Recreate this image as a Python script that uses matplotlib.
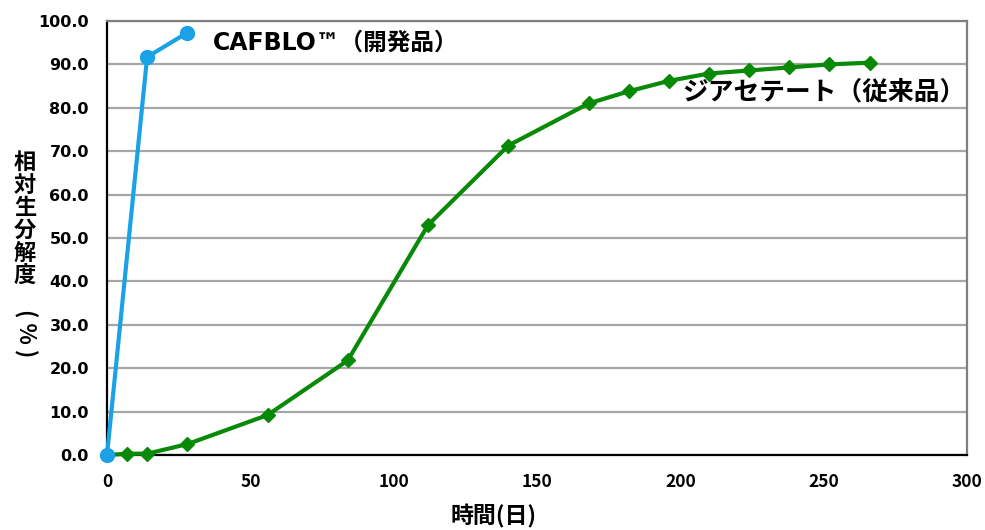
import matplotlib
matplotlib.use("Agg")
import matplotlib.pyplot as plt

plt.rcParams['font.family'] = ['Noto Sans CJK JP', 'DejaVu Sans']
LATIN = ['DejaVu Sans', 'Noto Sans CJK JP']

cafblo_days = [0, 14, 28]
cafblo_vals = [0.0, 91.7, 97.3]

diacetate_days = [0, 7, 14, 28, 56, 84, 112, 140, 168, 182, 196, 210, 224, 238, 252, 266]
diacetate_vals = [0.0, 0.3, 0.3, 2.5, 9.2, 21.8, 53.0, 71.3, 81.0, 83.8, 86.2, 87.9, 88.6, 89.3, 90.0, 90.4]

x_ticks = [0, 50, 100, 150, 200, 250, 300]
y_ticks = [0, 10, 20, 30, 40, 50, 60, 70, 80, 90, 100]

fig = plt.figure(figsize=(9.85, 5.30), dpi=100)
ax = fig.add_axes([107/985, 75/530, (967-107)/985, (455-21)/530])

ax.set_xlim(0, 300)
ax.set_ylim(0, 100)
ax.set_xticks(x_ticks)
ax.set_yticks(y_ticks)
ax.set_yticklabels([f"{v:.1f}" for v in y_ticks], family=LATIN,
                   fontsize=11.5, fontweight='bold')
ax.set_xticklabels([str(v) for v in x_ticks], fontsize=12.5, fontweight='bold')
ax.tick_params(length=0)
ax.tick_params(axis='y', pad=13)
ax.tick_params(axis='x', pad=13)

ax.grid(axis='y', color='#a6a6a6', linewidth=1.6)
ax.set_axisbelow(True)
ax.spines['left'].set_color('black')
ax.spines['bottom'].set_color('black')
ax.spines['left'].set_linewidth(1.6)
ax.spines['bottom'].set_linewidth(1.6)
ax.spines['top'].set_color('#7f7f7f')
ax.spines['right'].set_color('#7f7f7f')
ax.spines['top'].set_linewidth(1.6)
ax.spines['right'].set_linewidth(1.6)

ax.plot(diacetate_days, diacetate_vals, color='#088a08', linewidth=3,
        marker='D', markersize=7.5, zorder=3, clip_on=False)
ax.plot(cafblo_days, cafblo_vals, color='#1ba1e6', linewidth=3,
        marker='o', markersize=10, zorder=4, clip_on=False)

ax.text(37, 95, "CAFBLO™（開発品）", fontsize=17, fontweight='bold',
        ha='left', va='center', family=LATIN)
ax.text(299.3, 83.6, "ジアセテート（従来品）", fontsize=18.5, fontweight='bold',
        ha='right', va='center')

fig.text(494/985, 1 - 516/530, "時間(日)", fontsize=16.5, fontweight='bold',
         ha='center', va='center')
fig.text(25/985, 1 - 219/530, "相\n対\n生\n分\n解\n度", fontsize=16,
         fontweight='bold', ha='center', va='center', linespacing=0.98)
fig.text(25/985, 1 - 333/530, "( % )", fontsize=16, fontweight='bold',
         ha='center', va='center', rotation=270)

fig.savefig("out.png", dpi=100)
